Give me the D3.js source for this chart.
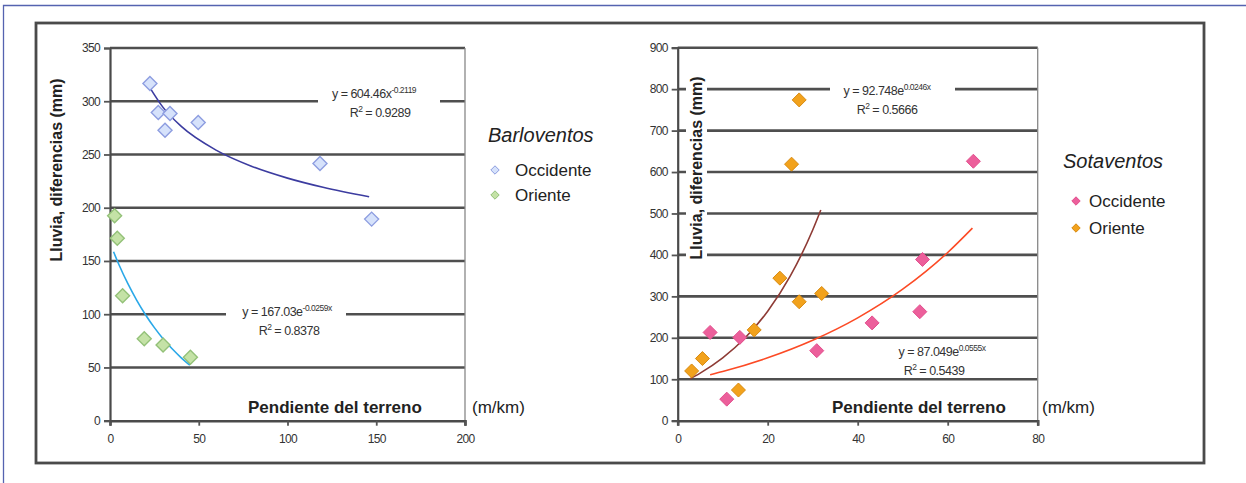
<!DOCTYPE html>
<html>
<head>
<meta charset="utf-8">
<script src="https://cdn.jsdelivr.net/npm/d3@7"></script>
<style>
  body { margin: 0; background: #fff; }
  svg text { font-family: "Liberation Sans", Arial, sans-serif; fill: #222; }
  .tick text { font-size: 12px; fill: #333; letter-spacing: -0.7px; }
  .eq { font-size: 12.5px; fill: #333; letter-spacing: -0.5px; }
</style>
</head>
<body>
<svg id="chart" width="1246" height="483"></svg>
<script>
// Barloventos (left panel)
var barOccX = [22.5, 27.2, 31, 33.8, 49.7, 118.3, 147.4];
var barOccY = [316.6, 289.5, 272.7, 288.5, 280, 241.5, 189.3];
var barOriX = [2.6, 4.1, 7.1, 19.3, 29.9, 45.3];
var barOriY = [192.4, 171.4, 117.3, 77, 71, 59.5];
// trend lines
var barOccFitX = [22, 30, 40, 60, 80, 100, 120, 146];
var barOccFitY = [314, 294, 276.6, 253.9, 238.8, 227.8, 219.2, 210.3];
var barOriFitX = [2, 5, 10, 15, 20, 25, 30, 35, 40, 45];
var barOriFitY = [158.6, 146.7, 128.9, 113.3, 99.5, 87.4, 76.8, 67.5, 59.3, 52.1];

// Sotaventos (right panel)
var sotOccX = [7.2, 10.9, 13.8, 30.9, 43.2, 53.8, 54.4, 65.7];
var sotOccY = [213, 52, 201, 169, 236, 263, 389, 626];
var sotOriX = [3.1, 5.5, 13.5, 17, 22.7, 25.3, 27, 27, 32];
var sotOriY = [120, 150, 74, 219, 344, 619, 774, 287, 307];
var sotOccFitX = [7.2, 10, 20, 30, 40, 50, 60, 65.5];
var sotOccFitY = [110.8, 118.6, 151.7, 194, 248.1, 317.3, 405.8, 464.7];
var sotOriFitX = [2.7, 5, 10, 15, 20, 25, 30, 31.8];
var sotOriFitY = [101, 114.9, 151.6, 200.1, 264.1, 348.6, 460.1, 508.4];

var leftXTicks = [0, 50, 100, 150, 200];
var leftYTicks = [0, 50, 100, 150, 200, 250, 300, 350];
var rightXTicks = [0, 20, 40, 60, 80];
var rightYTicks = [0, 100, 200, 300, 400, 500, 600, 700, 800, 900];

var svg = d3.select("#chart");

// outer frames
svg.append("path")
    .attr("d", "M3.5,483 V5.5 H1246")
    .attr("fill", "none")
    .attr("stroke", "#5563b0")
    .attr("stroke-width", 1.3);
svg.append("rect")
    .attr("x", 36).attr("y", 23)
    .attr("width", 1168).attr("height", 440)
    .attr("fill", "none")
    .attr("stroke", "#4a4a4a")
    .attr("stroke-width", 2.8);

function zip(xs, ys) {
    return xs.map(function (x, i) { return [x, ys[i]]; });
}

function diamond(r) {
    return "M0," + (-r) + "L" + r + ",0L0," + r + "L" + (-r) + ",0Z";
}

function drawPanel(p) {
    var g = svg.append("g");
    var x = d3.scaleLinear().domain(p.xDomain).range(p.xRange);
    var y = d3.scaleLinear().domain(p.yDomain).range(p.yRange);

    // gridlines
    g.selectAll(".grid")
        .data(p.yTicks.slice(1))
        .enter()
        .append("line")
        .attr("x1", p.xRange[0]).attr("x2", p.xRange[1])
        .attr("y1", function (d) { return y(d); })
        .attr("y2", function (d) { return y(d); })
        .attr("stroke", "#4f4f4f")
        .attr("stroke-width", 2.6);

    // right border of plot
    g.append("line")
        .attr("x1", p.xRange[1]).attr("x2", p.xRange[1])
        .attr("y1", p.yRange[1]).attr("y2", p.yRange[0] + 5)
        .attr("stroke", "#888")
        .attr("stroke-width", 1.3);

    // white boxes that break the gridlines
    g.selectAll(".box")
        .data(p.boxes)
        .enter()
        .append("rect")
        .attr("x", function (d) { return d[0]; })
        .attr("y", function (d) { return d[1]; })
        .attr("width", function (d) { return d[2] - d[0]; })
        .attr("height", function (d) { return d[3] - d[1]; })
        .attr("fill", "#fff");

    var xAxis = g.append("g")
        .attr("class", "axis")
        .attr("transform", "translate(0," + p.yRange[0] + ")")
        .call(d3.axisBottom(x).tickValues(p.xTicks).tickSize(5).tickPadding(9));
    var yAxis = g.append("g")
        .attr("class", "axis")
        .attr("transform", "translate(" + p.xRange[0] + ",0)")
        .call(d3.axisLeft(y).tickValues(p.yTicks).tickSize(6).tickPadding(4));
    g.selectAll(".axis path, .axis line").attr("stroke", "#555").attr("stroke-width", 1.8);
    g.selectAll(".axis .domain").attr("stroke", "#4a4a4a").attr("stroke-width", 2.2);
    xAxis.select(".domain").attr("stroke-width", 2.6);

    // trend lines
    var line = d3.line()
        .x(function (d) { return x(d[0]); })
        .y(function (d) { return y(d[1]); })
        .curve(d3.curveMonotoneX);
    p.fits.forEach(function (f) {
        g.append("path")
            .attr("d", line(f.data))
            .attr("fill", "none")
            .attr("stroke", f.color)
            .attr("stroke-width", 1.6);
    });

    // points
    p.series.forEach(function (s) {
        g.selectAll(null)
            .data(s.data)
            .enter()
            .append("path")
            .attr("d", diamond(s.r))
            .attr("transform", function (d) { return "translate(" + x(d[0]) + "," + y(d[1]) + ")"; })
            .attr("fill", s.fill)
            .attr("stroke", s.stroke)
            .attr("stroke-width", s.sw);
    });

    // equations
    p.eqs.forEach(function (e) {
        var t = g.append("text").attr("class", "eq")
            .attr("x", e.x).attr("y", e.y)
            .attr("text-anchor", "middle");
        t.append("tspan").text(e.main);
        t.append("tspan").attr("dy", -5).attr("font-size", 8.5).text(e.sup);
        var r = g.append("text").attr("class", "eq")
            .attr("x", e.x + e.dx).attr("y", e.y + 19)
            .attr("text-anchor", "middle");
        r.append("tspan").text("R");
        r.append("tspan").attr("dy", -5).attr("font-size", 8.5).text("2");
        r.append("tspan").attr("dy", 5).text(" = " + e.r2);
    });

    // axis titles
    g.append("text")
        .attr("transform", "translate(" + p.yTitle[0] + "," + p.yTitle[1] + ") rotate(-90)")
        .attr("text-anchor", "middle")
        .attr("font-size", 16)
        .attr("font-weight", "bold")
        .text("Lluvia, diferencias (mm)");
    g.append("text")
        .attr("x", p.xTitle[0]).attr("y", p.xTitle[1])
        .attr("font-size", 17)
        .attr("font-weight", "bold")
        .text("Pendiente del terreno");
    g.append("text")
        .attr("x", p.unit[0]).attr("y", p.unit[1])
        .attr("font-size", 17)
        .text("(m/km)");

    // legend
    var lg = p.legend;
    g.append("text")
        .attr("x", lg.x).attr("y", lg.y)
        .attr("font-size", 20)
        .attr("font-style", "italic")
        .attr("fill", "#333")
        .text(lg.title);
    p.series.forEach(function (s, i) {
        var yy = lg.y + lg.first + i * lg.step;
        g.append("path")
            .attr("d", diamond(s.r * 0.6))
            .attr("transform", "translate(" + (lg.x + lg.mx) + "," + (yy - 6) + ")")
            .attr("fill", s.fill)
            .attr("stroke", s.stroke)
            .attr("stroke-width", 1);
        g.append("text")
            .attr("x", lg.x + lg.tx).attr("y", yy)
            .attr("font-size", 17)
            .text(s.name);
    });
}

drawPanel({
    xDomain: [0, 200], xRange: [110, 465],
    yDomain: [0, 350], yRange: [420.7, 48],
    xTicks: leftXTicks, yTicks: leftYTicks,
    boxes: [[318, 86, 440, 120], [226, 304, 346, 340]],
    fits: [
        { data: zip(barOccFitX, barOccFitY), color: "#3c3ca0" },
        { data: zip(barOriFitX, barOriFitY), color: "#2aa8e8" }
    ],
    series: [
        { name: "Occidente", data: zip(barOccX, barOccY), r: 7, fill: "#d6e2fb", stroke: "#8d9de0", sw: 1.4 },
        { name: "Oriente", data: zip(barOriX, barOriY), r: 7, fill: "#c4e2a6", stroke: "#93c178", sw: 1.4 }
    ],
    eqs: [
        { x: 374, y: 98, main: "y = 604.46x", sup: "-0.2119", dx: 6, r2: "0.9289" },
        { x: 287, y: 316, main: "y = 167.03e", sup: "-0.0259x", dx: 2, r2: "0.8378" }
    ],
    yTitle: [62, 170],
    xTitle: [248, 413],
    unit: [472, 413],
    legend: { x: 488, y: 142, title: "Barloventos", first: 34, step: 25, mx: 7, tx: 27 }
});

drawPanel({
    xDomain: [0, 80], xRange: [677.7, 1037.7],
    yDomain: [0, 900], yRange: [420.7, 47.7],
    xTicks: rightXTicks, yTicks: rightYTicks,
    boxes: [[686, 52, 707, 285], [830, 84, 955, 120], [887, 345, 1007, 374]],
    fits: [
        { data: zip(sotOccFitX, sotOccFitY), color: "#fc4a25" },
        { data: zip(sotOriFitX, sotOriFitY), color: "#8e3b35" }
    ],
    series: [
        { name: "Occidente", data: zip(sotOccX, sotOccY), r: 7, fill: "#ec5f9b", stroke: "#e2508e", sw: 1 },
        { name: "Oriente", data: zip(sotOriX, sotOriY), r: 7, fill: "#f2a21c", stroke: "#d88a10", sw: 1 }
    ],
    eqs: [
        { x: 887, y: 95, main: "y = 92.748e", sup: "0.0246x", dx: 0, r2: "0.5666" },
        { x: 942, y: 356, main: "y = 87.049e", sup: "0.0555x", dx: -8, r2: "0.5439" }
    ],
    yTitle: [702, 168],
    xTitle: [832, 413],
    unit: [1042, 413],
    legend: { x: 1063, y: 168, title: "Sotaventos", first: 39, step: 27, mx: 13, tx: 26 }
});
</script>
</body>
</html>
